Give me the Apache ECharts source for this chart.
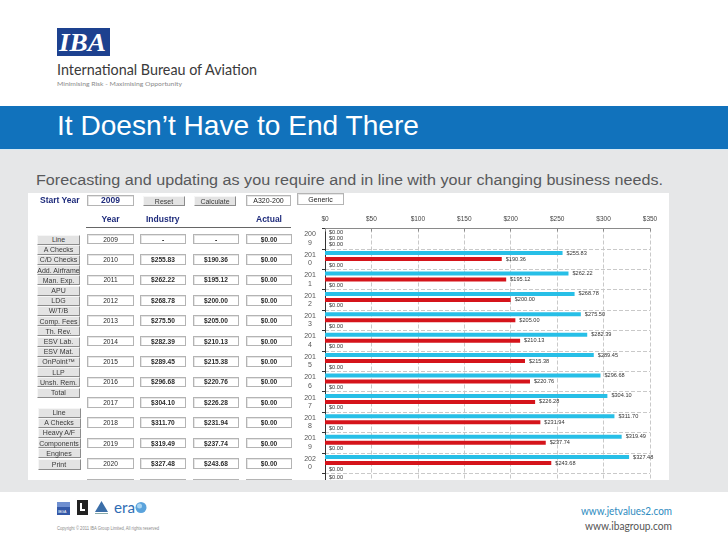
<!DOCTYPE html>
<html>
<head>
<meta charset="utf-8">
<script src="https://cdn.jsdelivr.net/npm/echarts@6/dist/echarts.min.js"></script>
<style>
  html,body{margin:0;padding:0;}
  body{width:728px;height:546px;position:relative;overflow:hidden;background:#fff;font-family:"Liberation Sans",Arial,sans-serif;}
  .abs{position:absolute;box-sizing:border-box;}
  .cell{display:flex;align-items:center;justify-content:center;white-space:nowrap;}
  .box{background:#fff;border:1px solid #b4b4b4;box-shadow:inset 1px 1px 0 #e6e6e6;}
  .btn{background:#e3e3e3;border-top:1px solid #f6f6f6;border-left:1px solid #f6f6f6;border-right:1px solid #8c8c8c;border-bottom:1px solid #8c8c8c;color:#3a3a3a;font-size:7px;}
  .navy{color:#1f2c7c;font-weight:bold;font-size:8.5px;}
  #shot{position:absolute;left:28px;top:193px;width:641px;height:287px;background:#fff;overflow:hidden;}
  #chart{position:absolute;left:0;top:0;width:641px;height:310px;}
</style>
</head>
<body>
<div class="abs" style="left:0;top:106px;width:728px;height:43px;background:#1172bc;"></div>
<div class="abs" style="left:0;top:149px;width:728px;height:1px;background:#d5e9f4;"></div>
<div class="abs" style="left:0;top:150px;width:728px;height:342px;background:#e6e7e8;"></div>

<svg class="abs" style="left:0;top:0;" width="728" height="546" xmlns="http://www.w3.org/2000/svg">
  <rect x="57" y="28" width="53" height="28" fill="#1d418f"/>
  <text x="59" y="51" font-family="Liberation Serif" font-weight="bold" font-style="italic" font-size="26" fill="#fff" textLength="47" lengthAdjust="spacingAndGlyphs">IBA</text>
  <text x="57" y="75" font-family="Lato" font-size="16" fill="#3a3a3a" textLength="200" lengthAdjust="spacingAndGlyphs">International Bureau of Aviation</text>
  <text x="57" y="85.5" font-family="Lato" font-size="6.5" fill="#8a8a8a" textLength="125" lengthAdjust="spacingAndGlyphs">Minimising Risk - Maximising Opportunity</text>
  <text x="57" y="135" font-family="Liberation Sans" font-size="28" fill="#ffffff" textLength="362" lengthAdjust="spacingAndGlyphs">It Doesn’t Have to End There</text>
  <text x="36" y="185" font-family="Liberation Sans" font-size="15.5" fill="#58595b" textLength="627" lengthAdjust="spacingAndGlyphs">Forecasting and updating as you require and in line with your changing business needs.</text>
  <rect x="57" y="502" width="13" height="13" fill="#3459a8"/>
  <rect x="57" y="502" width="13" height="5" fill="#6f8fd0"/>
  <text x="58" y="513" font-family="Liberation Sans" font-size="3.5" fill="#fff">IBGA</text>
  <rect x="77" y="500" width="11" height="15" fill="#222"/>
  <rect x="80" y="503" width="5" height="8" fill="#fff"/>
  <rect x="82" y="503" width="3" height="6" fill="#222"/>
  <polygon points="95,512 101.5,501 108,512" fill="#3b6ea8"/>
  <rect x="95" y="513" width="13" height="1" fill="#8aa"/>
  <text x="114" y="513" font-family="Lato" font-size="15" fill="#2e6db4" textLength="21" lengthAdjust="spacingAndGlyphs">era</text>
  <circle cx="141" cy="507.5" r="5.5" fill="#5ba3dc"/>
  <circle cx="139.5" cy="506" r="2.5" fill="#a8d4f2"/>
  <text x="57" y="529.5" font-family="Liberation Sans" font-size="4.5" fill="#8a8a8a" textLength="102" lengthAdjust="spacingAndGlyphs">Copyright © 2011 IBA Group Limited, All rights reserved</text>
  <text x="581" y="515" font-family="Lato" font-size="12" fill="#2e8bc0" textLength="91" lengthAdjust="spacingAndGlyphs">www.jetvalues2.com</text>
  <text x="585" y="529.5" font-family="Lato" font-size="12" fill="#555" textLength="87" lengthAdjust="spacingAndGlyphs">www.ibagroup.com</text>
</svg>

<div id="shot"><div id="chart"></div></div>

<script>
// ---- data ----
const years = ['2009','2010','2011','2012','2013','2014','2015','2016','2017','2018','2019','2020','2021'];
const industryValues = [null, 255.83, 262.22, 268.78, 275.50, 282.39, 289.45, 296.68, 304.10, 311.70, 319.49, 327.48, null];
const genericValues  = [null, 190.36, 195.12, 200.00, 205.00, 210.13, 215.38, 220.76, 226.28, 231.94, 237.74, 243.68, null];
const actualValues   = [0, 0, 0, 0, 0, 0, 0, 0, 0, 0, 0, 0, 0];
const xTickValues = [0, 50, 100, 150, 200, 250, 300, 350];
const startYear = '2009';
const aircraft = 'A320-200';
const scenario = 'Generic';
const buttonsTop = ['Line','A Checks','C/D Checks','Add. Airframe','Man. Exp.','APU','LDG','W/T/B','Comp. Fees','Th. Rev.','ESV Lab.','ESV Mat.','OnPoint™','LLP','Unsh. Rem.','Total'];
const buttonsBottom = ['Line','A Checks','Heavy A/F','Components','Engines'];

// ---- screenshot UI (page coordinates, offset into #shot) ----
const shot = document.getElementById('shot');
const OX = 28, OY = 193;
function el(x, y, w, h, text, cls, css) {
  const d = document.createElement('div');
  d.className = 'abs cell ' + (cls || '');
  d.style.left = (x - OX) + 'px';
  d.style.top = (y - OY) + 'px';
  d.style.width = w + 'px';
  d.style.height = h + 'px';
  if (css) d.style.cssText += css;
  d.textContent = text;
  shot.appendChild(d);
  return d;
}
el(40, 195, 44, 10, 'Start Year', 'navy', 'justify-content:flex-start;');
el(87, 195, 47, 10.5, startYear, 'box navy');
el(143, 196, 42, 10, 'Reset', 'btn');
el(194, 196, 42, 10, 'Calculate', 'btn');
el(246, 195, 45, 10.5, aircraft, 'box', 'font-size:7px;color:#222;');
el(297, 193, 47, 12, scenario, 'box', 'font-size:7px;color:#222;');
el(87, 214, 47, 10, 'Year', 'navy');
el(146, 214, 40, 10, 'Industry', 'navy', 'justify-content:flex-start;');
el(246, 214, 46, 10, 'Actual', 'navy');
el(86, 226.5, 205, 1, '', '', 'background:#666;');

const cols = [[87,47],[140,46],[193,46],[246,46]];
const fmt = v => v == null ? '-' : '$' + v.toFixed(2);
years.forEach((y, i) => {
  const top = 229 + i * 20.4 + 4.8;
  const texts = [y, fmt(industryValues[i]), fmt(genericValues[i]), fmt(actualValues[i])];
  cols.forEach((c, j) => {
    el(c[0], top, c[1], 10.5, texts[j], 'box',
       'font-size:6.6px;color:#2a2a2a;' + (j === 0 ? '' : 'font-weight:bold;'));
  });
});
buttonsTop.forEach((b, k) => el(37, 234.5 + k * 10.2, 43, 10.2, b, 'btn'));
buttonsBottom.forEach((b, k) => el(37.5, 407.5 + k * 10.2, 43, 10.2, b, 'btn'));
el(37.5, 458.5, 43, 11.5, 'Print', 'btn');

// ---- chart ----
const chart = echarts.init(document.getElementById('chart'), null, {renderer: 'canvas'});
const money = p => '$' + Number(p.value).toFixed(2);
const labelCfg = {show: true, position: 'right', distance: 4, fontSize: 5.6, color: '#333', formatter: money};
chart.setOption({
  animation: false,
  textStyle: {fontFamily: 'Liberation Sans'},
  grid: {left: 297, top: 35.5, width: 325, height: 265.2, containLabel: false},
  xAxis: {
    type: 'value', position: 'top',
    min: xTickValues[0], max: xTickValues[xTickValues.length - 1],
    interval: xTickValues[1] - xTickValues[0],
    axisLine: {show: true, lineStyle: {color: '#8a8a8a'}},
    axisTick: {show: true, inside: true, length: 3, lineStyle: {color: '#8a8a8a'}},
    axisLabel: {formatter: v => '$' + v, fontSize: 6.5, color: '#444', margin: 6},
    splitLine: {show: true, lineStyle: {type: 'dashed', color: '#c9c9c9', width: 1}}
  },
  yAxis: {
    type: 'category', inverse: true, data: years,
    axisLine: {show: true, lineStyle: {color: '#333'}},
    axisTick: {show: true, length: 3, lineStyle: {color: '#333'}},
    axisLabel: {formatter: v => v.slice(0, 3) + '\n' + v.slice(3), fontSize: 7, lineHeight: 8.5,
                color: '#555', align: 'center', margin: 15, showMaxLabel: false},
    splitLine: {show: true, lineStyle: {type: 'dashed', color: '#c9c9c9', width: 1}}
  },
  series: [
    {name: 'Industry', type: 'bar', data: industryValues.map(v => v == null ? 0 : v),
     barWidth: 4, barGap: '50%', itemStyle: {color: '#27bfe7'}, label: labelCfg},
    {name: 'Generic', type: 'bar', data: genericValues.map(v => v == null ? 0 : v),
     barWidth: 4, barGap: '50%', itemStyle: {color: '#d5141b'}, label: labelCfg},
    {name: 'Actual', type: 'bar', data: actualValues,
     barWidth: 4, barGap: '50%', itemStyle: {color: '#7a7a7a'}, label: labelCfg}
  ]
});
</script>
</body>
</html>
